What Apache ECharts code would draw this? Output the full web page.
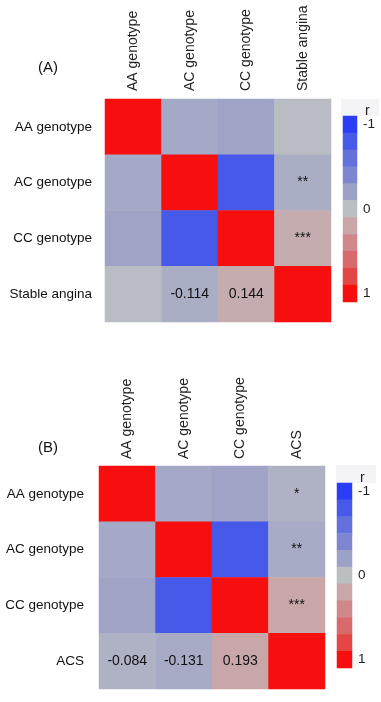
<!DOCTYPE html>
<html>
<head>
<meta charset="utf-8">
<script src="https://cdn.jsdelivr.net/npm/echarts@6/dist/echarts.min.js"></script>
<style>
  html, body { margin: 0; padding: 0; background: #fff; }
  #corrChart { width: 381px; height: 702px; }
</style>
</head>
<body>
<div id="corrChart"></div>
<script>
// variables on both axes
var genotypes = ['AA genotype', 'AC genotype', 'CC genotype'];
// genotype x genotype correlations (same in both panels)
var corrGeno = [
  [1, -0.15, -0.18],
  [-0.15, 1, -0.80],
  [-0.18, -0.80, 1]
];
// panel A: stable angina
var outcomeA = 'Stable angina';
var corrA = [-0.02, -0.114, 0.144];
var starsA = ['', '**', '***'];
// panel B: ACS
var outcomeB = 'ACS';
var corrB = [-0.084, -0.131, 0.193];
var starsB = ['*', '**', '***'];
// colour key
var keyValues = [-1, -0.8, -0.6, -0.4, -0.2, 0, 0.2, 0.4, 0.6, 0.8, 1];
var keyLabels = ['-1', '', '', '', '', '0', '', '', '', '', '1'];
var keyColors = ['#2b3df5', '#4759e8', '#6471dc', '#7e86d0', '#9ca1c8', '#bcbfc2',
                 '#c9a6a8', '#d0888b', '#d96a6c', '#e44646', '#f70f0f'];

var font = 'Liberation Sans, Arial, sans-serif';

// build heatmap cells [col, row, value, text]
function buildCells(corrOut, stars) {
  var cells = [];
  var n = genotypes.length;
  for (var r = 0; r <= n; r++) {
    for (var c = 0; c <= n; c++) {
      var v, txt = '';
      if (r < n && c < n) {
        v = corrGeno[r][c];
      } else if (r === n && c === n) {
        v = 1;
      } else if (c === n) {
        v = corrOut[r];
        txt = stars[r];
      } else {
        v = corrOut[c];
        txt = stars[c] ? corrOut[c].toFixed(3) : '';
      }
      cells.push([c, r, v, txt]);
    }
  }
  return cells;
}

function keyCells() {
  return keyValues.map(function (v, i) { return [0, i, v]; });
}

var namesA = genotypes.concat([outcomeA]);
var namesB = genotypes.concat([outcomeB]);

var chart = echarts.init(document.getElementById('corrChart'));

var cellLabel = {
  show: true,
  fontFamily: font,
  fontSize: 14,
  color: '#111',
  formatter: function (p) { return p.data[3]; }
};

var options = {
  backgroundColor: '#fff',
  animation: false,
  textStyle: { fontFamily: font },
  title: [
    { text: '(A)', left: 33, top: 55, textStyle: { fontSize: 15, fontWeight: 'normal', color: '#111', fontFamily: font } },
    { text: '(B)', left: 33, top: 435, textStyle: { fontSize: 15, fontWeight: 'normal', color: '#111', fontFamily: font } },
    { text: 'r', left: 360, top: 99, textStyle: { fontSize: 14, fontWeight: 'normal', color: '#222', fontFamily: font } },
    { text: 'r', left: 355, top: 466, textStyle: { fontSize: 14, fontWeight: 'normal', color: '#222', fontFamily: font } }
  ],
  graphic: [
    { type: 'rect', z: -1, shape: { x: 341, y: 99, width: 38, height: 17 }, style: { fill: '#f4f4f6' } },
    { type: 'rect', z: -1, shape: { x: 336, y: 465, width: 40, height: 18 }, style: { fill: '#f4f4f6' } }
  ],
  grid: [
    { left: 105, top: 99, width: 226, height: 223 },
    { left: 99, top: 466, width: 226, height: 223 },
    { left: 343, top: 116, width: 14, height: 186 },
    { left: 337, top: 483, width: 15, height: 185 }
  ],
  xAxis: [
    {
      type: 'category', gridIndex: 0, position: 'top', data: namesA,
      axisLine: { show: false }, axisTick: { show: false }, splitArea: { show: false },
      axisLabel: { rotate: -90, margin: 8, fontSize: 14, color: '#222', fontFamily: font }
    },
    {
      type: 'category', gridIndex: 1, position: 'top', data: namesB,
      axisLine: { show: false }, axisTick: { show: false },
      axisLabel: { rotate: -90, margin: 7, fontSize: 14, color: '#222', fontFamily: font }
    },
    { type: 'category', gridIndex: 2, data: [''], show: false },
    { type: 'category', gridIndex: 3, data: [''], show: false }
  ],
  yAxis: [
    {
      type: 'category', gridIndex: 0, inverse: true, data: namesA,
      axisLine: { show: false }, axisTick: { show: false },
      axisLabel: { margin: 13, fontSize: 13.5, color: '#111', fontFamily: font }
    },
    {
      type: 'category', gridIndex: 1, inverse: true, data: namesB,
      axisLine: { show: false }, axisTick: { show: false },
      axisLabel: { margin: 15, fontSize: 13.5, color: '#111', fontFamily: font }
    },
    {
      type: 'category', gridIndex: 2, inverse: true, position: 'right', data: keyLabels,
      axisLine: { show: false }, axisTick: { show: false },
      axisLabel: { margin: 6, fontSize: 13.5, color: '#222', fontFamily: font, interval: 0 }
    },
    {
      type: 'category', gridIndex: 3, inverse: true, position: 'right', data: keyLabels,
      axisLine: { show: false }, axisTick: { show: false },
      axisLabel: { margin: 6, fontSize: 13.5, color: '#222', fontFamily: font, interval: 0 }
    }
  ],
  visualMap: {
    type: 'continuous',
    show: false,
    min: -1,
    max: 1,
    dimension: 2,
    seriesIndex: [0, 1, 2, 3],
    inRange: { color: keyColors }
  },
  series: [
    { type: 'heatmap', xAxisIndex: 0, yAxisIndex: 0, data: buildCells(corrA, starsA), label: cellLabel },
    { type: 'heatmap', xAxisIndex: 1, yAxisIndex: 1, data: buildCells(corrB, starsB), label: cellLabel },
    { type: 'heatmap', xAxisIndex: 2, yAxisIndex: 2, data: keyCells() },
    { type: 'heatmap', xAxisIndex: 3, yAxisIndex: 3, data: keyCells() }
  ]
};

chart.setOption(options);
</script>
</body>
</html>
